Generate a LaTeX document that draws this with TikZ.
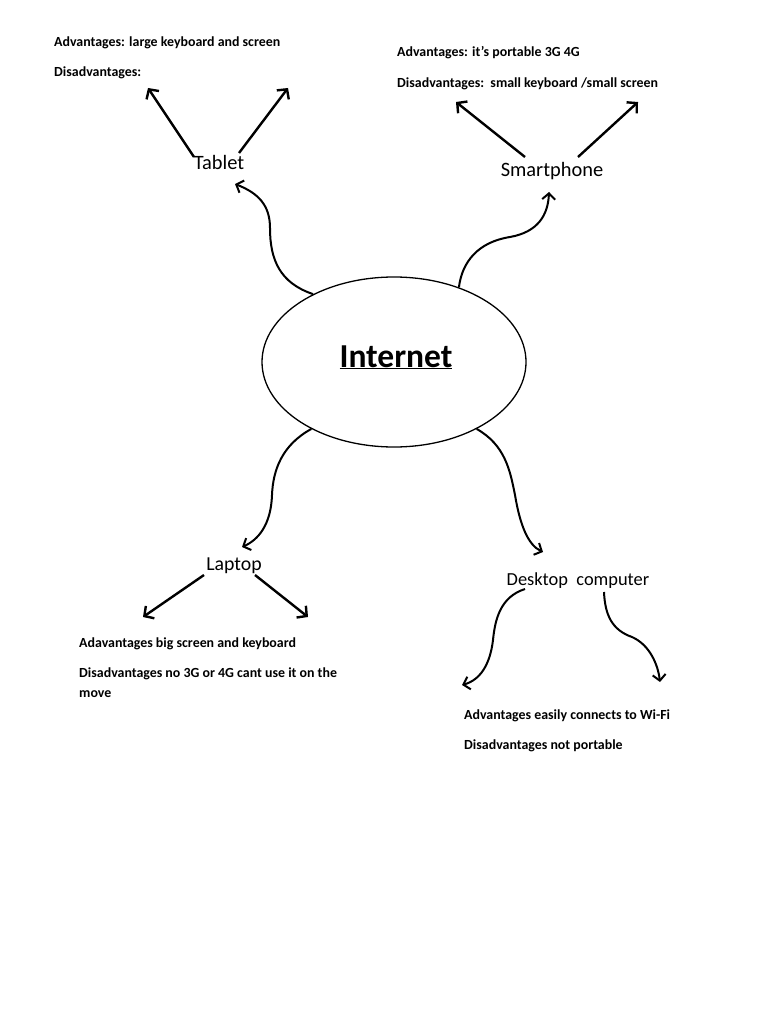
\documentclass[tikz,border=0pt]{standalone}
\usepackage{fontspec}
\setmainfont{Carlito}
\usetikzlibrary{shapes.geometric,arrows.meta}
\begin{document}
\begin{tikzpicture}[x=1pt,y=-1pt,
  lbl/.style={font=\fontsize{20.4}{24}\selectfont, inner sep=0pt, anchor=base},
  note/.style={font=\fontsize{13.9}{16}\selectfont\bfseries, inner sep=0pt, anchor=base west},
  sarrow/.style={line width=2.4pt, -{Straight Barb[length=7pt,width=15pt,line width=2.4pt]}},
  carrow/.style={line width=2pt, -{Straight Barb[length=6pt,width=13pt,line width=2pt]}}]
\useasboundingbox[fill=white] (0,0) rectangle (768,1024);

% central ellipse
\node[ellipse, draw, line width=1.3pt, minimum width=264pt, minimum height=170pt, inner sep=0pt] (inet) at (394,362) {};
\node[font=\fontsize{33.5}{38}\selectfont\bfseries, inner sep=0pt, anchor=base] (inettxt) at (396,367) {\underline{Internet}};

% branch labels
\node[lbl] (tablet) at (219,170) {Tablet};
\node[lbl] (smart) at (552,177) {Smartphone};
\node[lbl, font=\fontsize{19.8}{24}\selectfont] (laptop) at (234,570) {Laptop};
\node[lbl, font=\fontsize{18.4}{22}\selectfont] (desk) at (578,585) {Desktop\ \ computer};

% notes
\node[note] (tadv) at (54,47) {Advantages: large keyboard and screen};
\node[note] (tdis) at (54,77) {Disadvantages:};
\node[note] (sadv) at (397,57) {Advantages: it’s portable 3G 4G};
\node[note] (sdis) at (397,88) {Disadvantages:\ \ small keyboard /small screen};
\node[note] (ladv) at (79,647) {Adavantages big screen and keyboard};
\node[note] (ldis) at (79,677) {Disadvantages no 3G or 4G cant use it on the};
\node[note] (lmove) at (79,697) {move};
\node[note] (dadv) at (464,719) {Advantages easily connects to Wi-Fi};
\node[note] (ddis) at (464,749) {Disadvantages not portable};

% free ends
\coordinate (t1) at (148,88);
\coordinate (t2) at (288,88);
\coordinate (s1) at (456,102);
\coordinate (s2) at (638,102);
\coordinate (l1) at (143,617);
\coordinate (l2) at (308,617);
\coordinate (d1) at (462,685);
\coordinate (d2) at (660,682);

% curved connectors from Internet
\draw[carrow] (inet.140) .. controls (280,283) and (270,260) .. (270,228)
   .. controls (270,205) and (258,193) .. (235,184);
\draw[carrow] (inet.49) .. controls (462,262) and (478,242) .. (510,237)
   .. controls (538,232) and (548,215) .. (549,192);
\draw[carrow] (inet.219) .. controls (282,445) and (273,470) .. (272,495)
   .. controls (271,525) and (258,540) .. (242,547);
\draw[carrow] (inet.-39) .. controls (505,445) and (510,470) .. (515,495)
   .. controls (520,525) and (528,545) .. (543,552);

% straight arrows
\draw[sarrow] ([xshift=-25pt,yshift=13pt]tablet.base) -- (t1);
\draw[sarrow] ([xshift=20pt,yshift=17pt]tablet.base) -- (t2);
\draw[sarrow] ([xshift=-27pt,yshift=20pt]smart.base) -- (s1);
\draw[sarrow] ([xshift=26pt,yshift=20pt]smart.base) -- (s2);
\draw[sarrow] ([xshift=-30pt,yshift=-5pt]laptop.base) -- (l1);
\draw[sarrow] ([xshift=21pt,yshift=-5pt]laptop.base) -- (l2);

% desktop curved arrows
\draw[carrow] ([xshift=-53pt,yshift=-4pt]desk.base) .. controls (500,597) and (495,620) .. (493,640)
   .. controls (490,665) and (480,680) .. (d1);
\draw[carrow] ([xshift=26pt,yshift=-7pt]desk.base) .. controls (605,615) and (612,630) .. (632,637)
   .. controls (650,645) and (658,665) .. (d2);
\end{tikzpicture}
\end{document}
